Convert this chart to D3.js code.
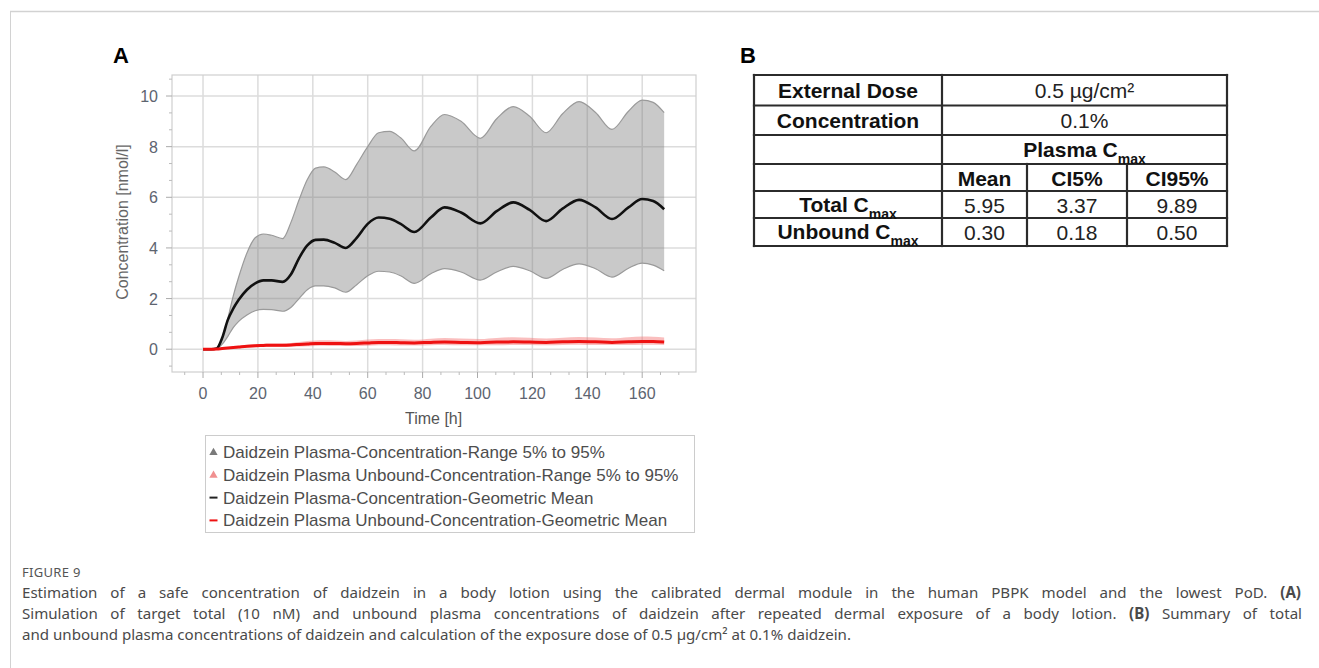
<!DOCTYPE html>
<html>
<head>
<meta charset="utf-8">
<script src="https://cdn.jsdelivr.net/npm/d3@7"></script>
<style>
  html, body { margin: 0; padding: 0; background: #fff; }
  svg { display: block; font-family: "Liberation Sans", Arial, sans-serif; }
</style>
</head>
<body>
<svg id="fig" width="1319" height="668"></svg>
<script>
/* Figure 9: daidzein plasma concentration simulation (A) + Cmax summary table (B) */

// sampling times [h] shared by all series
const timeH = [0, 3, 5, 7, 9, 11, 13, 16, 19, 22, 25, 29, 32, 35, 38, 41, 44, 48, 52, 56, 60, 64, 68, 72, 77,
  83, 88, 94, 101, 107, 113, 119, 125, 131, 137, 143, 149, 155, 160, 164, 168];

// total plasma concentration [nmol/l]
const totalMean = [0, 0, 0.03, 0.45, 1.15, 1.6, 1.95, 2.35, 2.6, 2.72, 2.72, 2.66, 2.95, 3.6, 4.1, 4.32, 4.33, 4.2, 4.0, 4.4,
  4.95, 5.2, 5.15, 4.95, 4.63, 5.2, 5.6, 5.4, 4.97, 5.45, 5.8, 5.5, 5.06, 5.55, 5.9, 5.6, 5.14, 5.6, 5.93, 5.85, 5.53];
const totalP95 = [0, 0, 0.05, 0.45, 1.2, 2.1, 2.85, 3.8, 4.4, 4.55, 4.5, 4.37, 5.0, 5.9, 6.7, 7.15, 7.2, 7.0, 6.7, 7.3,
  8.0, 8.55, 8.6, 8.35, 7.83, 8.8, 9.27, 9.0, 8.33, 9.1, 9.58, 9.2, 8.55, 9.3, 9.78, 9.35, 8.68, 9.4, 9.84, 9.75, 9.34];
const totalP5 = [0, 0, 0.02, 0.2, 0.5, 0.85, 1.1, 1.35, 1.52, 1.57, 1.56, 1.5, 1.65, 2.0, 2.35, 2.5, 2.5, 2.42, 2.25, 2.55,
  2.9, 3.08, 3.05, 2.9, 2.6, 2.98, 3.18, 3.05, 2.73, 3.05, 3.27, 3.1, 2.8, 3.15, 3.37, 3.18, 2.85, 3.2, 3.4, 3.32, 3.1];

// unbound plasma concentration [nmol/l]
const unboundMean = [0, 0, 0.01, 0.03, 0.05, 0.07, 0.09, 0.12, 0.14, 0.15, 0.16, 0.16, 0.17, 0.19, 0.21, 0.23, 0.23, 0.23, 0.22, 0.23,
  0.25, 0.27, 0.27, 0.26, 0.25, 0.27, 0.28, 0.27, 0.26, 0.28, 0.29, 0.28, 0.27, 0.29, 0.3, 0.29, 0.27, 0.29, 0.3, 0.3, 0.28];
const unboundP95 = [0, 0, 0.01, 0.04, 0.07, 0.1, 0.13, 0.17, 0.2, 0.22, 0.23, 0.23, 0.25, 0.28, 0.32, 0.34, 0.35, 0.34, 0.32, 0.34,
  0.38, 0.4, 0.4, 0.39, 0.37, 0.41, 0.44, 0.42, 0.4, 0.44, 0.47, 0.45, 0.42, 0.45, 0.48, 0.46, 0.43, 0.47, 0.5, 0.49, 0.46];
const unboundP5 = [0, 0, 0, 0.01, 0.02, 0.03, 0.04, 0.06, 0.08, 0.09, 0.09, 0.09, 0.1, 0.11, 0.12, 0.13, 0.14, 0.13, 0.13, 0.13,
  0.14, 0.16, 0.16, 0.15, 0.15, 0.16, 0.17, 0.16, 0.16, 0.16, 0.17, 0.17, 0.16, 0.17, 0.18, 0.17, 0.17, 0.17, 0.18, 0.18, 0.17];

const xTicks = [0, 20, 40, 60, 80, 100, 120, 140, 160];
const yTicks = [0, 2, 4, 6, 8, 10];

const legendLabels = [
  "Daidzein Plasma-Concentration-Range 5% to 95%",
  "Daidzein Plasma Unbound-Concentration-Range 5% to 95%",
  "Daidzein Plasma-Concentration-Geometric Mean",
  "Daidzein Plasma Unbound-Concentration-Geometric Mean"
];

// table B
const tableHeader = [["External Dose", "0.5 µg/cm²"], ["Concentration", "0.1%"]];
const statCols = ["Mean", "CI5%", "CI95%"];
const cmaxRows = ["Total", "Unbound"];
const cmaxValues = [["5.95", "3.37", "9.89"], ["0.30", "0.18", "0.50"]];

const svg = d3.select("#fig");

// outer figure frame (top + left only)
svg.append("line").attr("x1", 10).attr("x2", 1319).attr("y1", 11.5).attr("y2", 11.5)
  .attr("stroke", "#d2d2d2").attr("stroke-width", 1.5);
svg.append("line").attr("x1", 10.5).attr("x2", 10.5).attr("y1", 11).attr("y2", 668)
  .attr("stroke", "#d2d2d2").attr("stroke-width", 1);

// panel letters
svg.append("text").attr("x", 113).attr("y", 63).attr("font-size", 22).attr("font-weight", "bold").text("A");
svg.append("text").attr("x", 740).attr("y", 63).attr("font-size", 22).attr("font-weight", "bold").text("B");

/* ---------- panel A ---------- */
const plot = { left: 172, right: 696, top: 75, bottom: 372 };
const x = d3.scaleLinear().domain([-11.3, 179.6]).range([plot.left, plot.right]);
const y = d3.scaleLinear().domain([-0.9, 10.83]).range([plot.bottom, plot.top]);

const gA = svg.append("g");
const tickColor = "#5d6470";

// grid
gA.append("g").selectAll("line").data(xTicks).join("line")
  .attr("x1", d => x(d)).attr("x2", d => x(d)).attr("y1", plot.top).attr("y2", plot.bottom)
  .attr("stroke", "#dcdcdc").attr("stroke-width", 1.5);
gA.append("g").selectAll("line").data(yTicks).join("line")
  .attr("x1", plot.left).attr("x2", plot.right).attr("y1", d => y(d)).attr("y2", d => y(d))
  .attr("stroke", "#dcdcdc").attr("stroke-width", 1.5);

// series
const pts = timeH.map((t, i) => i);
const area = (lo, hi) => d3.area().curve(d3.curveMonotoneX)
  .x(i => x(timeH[i])).y0(i => y(lo[i])).y1(i => y(hi[i]));
const line = vals => d3.line().curve(d3.curveMonotoneX).x(i => x(timeH[i])).y(i => y(vals[i]));

gA.append("path").datum(pts).attr("d", area(totalP5, totalP95))
  .attr("fill", "rgba(120,120,120,0.4)");
gA.append("path").datum(pts).attr("d", line(totalP95)).attr("fill", "none").attr("stroke", "#9a9a9a").attr("stroke-width", 1.2);
gA.append("path").datum(pts).attr("d", line(totalP5)).attr("fill", "none").attr("stroke", "#9a9a9a").attr("stroke-width", 1.2);

gA.append("path").datum(pts).attr("d", area(unboundP5, unboundP95))
  .attr("fill", "rgba(245,110,110,0.45)");
gA.append("path").datum(pts).attr("d", line(totalMean)).attr("fill", "none")
  .attr("stroke", "#111").attr("stroke-width", 2.6);
gA.append("path").datum(pts).attr("d", line(unboundMean)).attr("fill", "none")
  .attr("stroke", "#ee1111").attr("stroke-width", 3);

// plot frame
gA.append("rect").attr("x", plot.left).attr("y", plot.top)
  .attr("width", plot.right - plot.left).attr("height", plot.bottom - plot.top)
  .attr("fill", "none").attr("stroke", "#cfcfcf").attr("stroke-width", 1.2);

// ticks (major + minor, 3 subdivisions)
const yMinor = d3.range(-0.667, 10.9, 2 / 3).filter(v => Math.abs(v / 2 - Math.round(v / 2)) > 0.01);
const xMinor = d3.range(-20 / 3, 178, 20 / 3).filter(v => Math.abs(v / 20 - Math.round(v / 20)) > 0.01);
gA.append("g").selectAll("line").data(yTicks).join("line")
  .attr("x1", plot.left - 6).attr("x2", plot.left).attr("y1", d => y(d)).attr("y2", d => y(d))
  .attr("stroke", "#aaa");
gA.append("g").selectAll("line").data(yMinor).join("line")
  .attr("x1", plot.left - 3).attr("x2", plot.left).attr("y1", d => y(d)).attr("y2", d => y(d))
  .attr("stroke", "#bbb");
gA.append("g").selectAll("line").data(xTicks).join("line")
  .attr("x1", d => x(d)).attr("x2", d => x(d)).attr("y1", plot.bottom).attr("y2", plot.bottom + 6)
  .attr("stroke", "#aaa");
gA.append("g").selectAll("line").data(xMinor).join("line")
  .attr("x1", d => x(d)).attr("x2", d => x(d)).attr("y1", plot.bottom).attr("y2", plot.bottom + 3)
  .attr("stroke", "#bbb");

// tick labels
gA.append("g").selectAll("text").data(yTicks).join("text")
  .attr("x", 158).attr("y", d => y(d) + 6).attr("text-anchor", "end")
  .attr("font-size", 16).attr("fill", tickColor).text(d => d);
gA.append("g").selectAll("text").data(xTicks).join("text")
  .attr("x", d => x(d)).attr("y", 399).attr("text-anchor", "middle")
  .attr("font-size", 16).attr("fill", tickColor).text(d => d);

// axis titles
gA.append("text").attr("x", x(84)).attr("y", 424).attr("text-anchor", "middle")
  .attr("font-size", 16).attr("fill", "#555").text("Time [h]");
gA.append("text").attr("transform", "translate(128,222) rotate(-90)").attr("text-anchor", "middle")
  .attr("font-size", 16).attr("fill", "#666").text("Concentration [nmol/l]");

// legend
const leg = gA.append("g");
leg.append("rect").attr("x", 205.5).attr("y", 435.5).attr("width", 489).attr("height", 97)
  .attr("fill", "#fff").attr("stroke", "#cccccc");
const legY = i => 452 + i * 22.8;
const legColors = ["#7a7a7a", "#f09090", "#222", "#ee1111"];
legendLabels.forEach((lab, i) => {
  if (i < 2) {
    leg.append("path").attr("d", d3.symbol(d3.symbolTriangle, 30)())
      .attr("transform", `translate(213.5,${legY(i) + 0.5})`).attr("fill", legColors[i]);
  } else {
    leg.append("line").attr("x1", 209.5).attr("x2", 217.5).attr("y1", legY(i)).attr("y2", legY(i))
      .attr("stroke", legColors[i]).attr("stroke-width", 2);
  }
  leg.append("text").attr("x", 223).attr("y", legY(i) + 6)
    .attr("font-size", 17).attr("fill", "#4d4d4d").text(lab);
});

/* ---------- panel B: table ---------- */
const colX = [754, 942, 1027, 1127, 1227];
const rowY = [75, 105.5, 135, 164, 191, 218, 246];
const gB = svg.append("g");
const tFont = 21;
const mid = (a, b) => (a + b) / 2;
const baseY = r => mid(rowY[r], rowY[r + 1]) + 8;

// lines
const hLines = rowY.map(v => [colX[0], v, colX[4], v]);
const vLines = [[colX[0], rowY[0], colX[0], rowY[6]], [colX[1], rowY[0], colX[1], rowY[6]],
  [colX[2], rowY[3], colX[2], rowY[6]], [colX[3], rowY[3], colX[3], rowY[6]], [colX[4], rowY[0], colX[4], rowY[6]]];
gB.selectAll("line").data(hLines.concat(vLines)).join("line")
  .attr("x1", d => d[0]).attr("y1", d => d[1]).attr("x2", d => d[2]).attr("y2", d => d[3])
  .attr("stroke", "#2b2b2b").attr("stroke-width", 2.2).attr("stroke-linecap", "square");

function cmaxText(cx, yb, main, bold) {
  const t = gB.append("text").attr("x", cx).attr("y", yb).attr("text-anchor", "middle")
    .attr("font-size", tFont).attr("font-weight", bold ? "bold" : "normal").attr("fill", "#111");
  t.append("tspan").text(main + "C");
  t.append("tspan").attr("dy", 7).attr("font-size", 14).text("max");
}

tableHeader.forEach((row, r) => {
  gB.append("text").attr("x", mid(colX[0], colX[1])).attr("y", baseY(r)).attr("text-anchor", "middle")
    .attr("font-size", tFont).attr("font-weight", "bold").attr("fill", "#111").text(row[0]);
  gB.append("text").attr("x", mid(colX[1], colX[4])).attr("y", baseY(r)).attr("text-anchor", "middle")
    .attr("font-size", tFont).attr("fill", "#222").text(row[1]);
});
cmaxText(mid(colX[1], colX[4]), baseY(2) - 1, "Plasma ", true);
statCols.forEach((c, j) => {
  gB.append("text").attr("x", mid(colX[j + 1], colX[j + 2])).attr("y", baseY(3)).attr("text-anchor", "middle")
    .attr("font-size", tFont).attr("font-weight", "bold").attr("fill", "#111").text(c);
});
cmaxRows.forEach((lab, r) => {
  cmaxText(mid(colX[0], colX[1]), baseY(4 + r) - 1, lab + " ", true);
  cmaxValues[r].forEach((v, j) => {
    gB.append("text").attr("x", mid(colX[j + 1], colX[j + 2])).attr("y", baseY(4 + r)).attr("text-anchor", "middle")
      .attr("font-size", tFont).attr("fill", "#222").text(v);
  });
});

/* ---------- caption ---------- */
const cap = svg.append("g").attr("font-family", "'Noto Sans', 'Open Sans', sans-serif").attr("fill", "#4a4a4a");
cap.append("text").attr("x", 22).attr("y", 577).attr("font-size", 13).attr("letter-spacing", 0.3)
  .attr("fill", "#555").text("FIGURE 9");

// lines 1-2 are justified to the full column width, last line is ragged
const capLines = [
  { y: 598, w: 1279, parts: [["Estimation of a safe concentration of daidzein in a body lotion using the calibrated dermal module in the human PBPK model and the lowest PoD. ", 0], ["(A)", 1]] },
  { y: 619, w: 1280, parts: [["Simulation of target total (10 nM) and unbound plasma concentrations of daidzein after repeated dermal exposure of a body lotion. ", 0], ["(B)", 1], [" Summary of total", 0]] },
  { y: 640, w: null, parts: [["and unbound plasma concentrations of daidzein and calculation of the exposure dose of 0.5 µg/cm² at 0.1% daidzein.", 0]] }
];
capLines.forEach(l => {
  const t = cap.append("text").attr("x", 22).attr("y", l.y).attr("font-size", 15.1);
  l.parts.forEach(p => t.append("tspan").attr("font-weight", p[1] ? "bold" : "normal").text(p[0]));
  if (l.w) {
    const natural = t.node().getComputedTextLength();
    const spaces = l.parts.map(p => p[0]).join("").split(" ").length - 1;
    t.attr("word-spacing", Math.max(0, (l.w - natural) / spaces));
  }
});
</script>
</body>
</html>
